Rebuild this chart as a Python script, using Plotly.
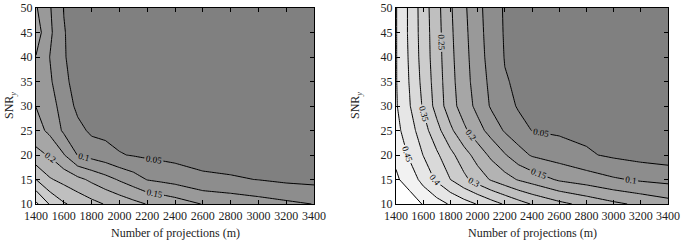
import plotly.graph_objects as go

# ---- data ----
x_proj = [1400, 1500, 1600, 1700, 1800, 1900, 2000, 2100, 2200, 2300, 2400,
          2600, 2800, 3000, 3200, 3400]
snr_y = [10, 15, 20, 25, 30, 35, 40, 45, 50]

# left panel: error values, one row per SNR value (10 .. 50)
err_left = [
    [0.41, 0.345, 0.305, 0.285, 0.265, 0.247, 0.232, 0.215, 0.198, 0.187, 0.175, 0.148, 0.135, 0.122, 0.110, 0.099],
    [0.30, 0.255, 0.235, 0.213, 0.190, 0.168, 0.145, 0.123, 0.098, 0.090, 0.082, 0.060, 0.055, 0.049, 0.040, 0.036],
    [0.215, 0.195, 0.153, 0.098, 0.083, 0.070, 0.053, 0.047, 0.042, 0.038, 0.034, 0.031, 0.029, 0.027, 0.026, 0.025],
    [0.170, 0.138, 0.092, 0.066, 0.040, 0.036, 0.033, 0.031, 0.030, 0.029, 0.028, 0.026, 0.024, 0.023, 0.022, 0.021],
    [0.149, 0.117, 0.083, 0.037, 0.032, 0.030, 0.028, 0.027, 0.026, 0.025, 0.024, 0.023, 0.022, 0.021, 0.020, 0.019],
    [0.140, 0.107, 0.062, 0.030, 0.028, 0.027, 0.026, 0.025, 0.024, 0.023, 0.022, 0.021, 0.020, 0.019, 0.018, 0.017],
    [0.148, 0.099, 0.053, 0.034, 0.030, 0.028, 0.026, 0.025, 0.024, 0.023, 0.022, 0.021, 0.020, 0.019, 0.018, 0.017],
    [0.175, 0.110, 0.052, 0.035, 0.030, 0.028, 0.026, 0.025, 0.024, 0.023, 0.022, 0.021, 0.020, 0.019, 0.018, 0.017],
    [0.155, 0.104, 0.049, 0.035, 0.030, 0.028, 0.026, 0.025, 0.024, 0.023, 0.022, 0.021, 0.020, 0.019, 0.018, 0.017],
]

# right panel
err_right = [
    [0.560, 0.525, 0.497, 0.470, 0.445, 0.421, 0.397, 0.371, 0.345, 0.320, 0.297, 0.263, 0.235, 0.210, 0.190, 0.170],
    [0.507, 0.479, 0.433, 0.392, 0.350, 0.312, 0.277, 0.245, 0.220, 0.196, 0.179, 0.143, 0.126, 0.106, 0.093, 0.085],
    [0.490, 0.442, 0.399, 0.358, 0.314, 0.271, 0.229, 0.189, 0.154, 0.120, 0.095, 0.078, 0.056, 0.042, 0.032, 0.025],
    [0.465, 0.422, 0.371, 0.317, 0.261, 0.210, 0.169, 0.131, 0.095, 0.070, 0.049, 0.042, 0.039, 0.037, 0.035, 0.034],
    [0.455, 0.403, 0.344, 0.281, 0.221, 0.176, 0.136, 0.094, 0.070, 0.045, 0.042, 0.038, 0.036, 0.034, 0.032, 0.031],
    [0.453, 0.397, 0.335, 0.276, 0.216, 0.170, 0.127, 0.0875, 0.053, 0.044, 0.042, 0.038, 0.035, 0.033, 0.031, 0.030],
    [0.453, 0.393, 0.329, 0.272, 0.212, 0.167, 0.121, 0.081, 0.048, 0.043, 0.040, 0.036, 0.033, 0.031, 0.029, 0.028],
    [0.453, 0.390, 0.327, 0.270, 0.209, 0.163, 0.118, 0.077, 0.046, 0.041, 0.038, 0.034, 0.031, 0.029, 0.027, 0.026],
    [0.453, 0.390, 0.325, 0.267, 0.206, 0.159, 0.115, 0.074, 0.045, 0.040, 0.037, 0.033, 0.030, 0.028, 0.026, 0.025],
]

x_ticks = [1400, 1600, 1800, 2000, 2200, 2400, 2600, 2800, 3000, 3200, 3400]
y_ticks = [10, 15, 20, 25, 30, 35, 40, 45, 50]

# ---- styling ----
FONT = "Liberation Serif"
band_grays = [128, 141, 153, 166, 179, 191, 204, 217, 230, 242, 255]


def scale(nbands):
    cols = band_grays[:nbands]
    return [[k / (nbands - 1), f"rgb({g},{g},{g})"] for k, g in enumerate(cols)]


def contour(z, end, xa, ya):
    return go.Contour(
        x=x_proj, y=snr_y, z=z, xaxis=xa, yaxis=ya,
        autocontour=False,
        contours=dict(start=0.05, end=end, size=0.05, coloring="fill",
                      showlabels=True, labelformat=".2~f",
                      labelfont=dict(family=FONT, size=9, color="black")),
        line=dict(color="black", width=1, smoothing=0),
        colorscale=scale(int(round(end / 0.05)) + 1),
        showscale=False, hoverinfo="skip",
    )


fig = go.Figure()
fig.add_trace(contour(err_left, 0.4, "x", "y"))
fig.add_trace(contour(err_right, 0.5, "x2", "y2"))

W, H = 685, 243
axis_common = dict(showline=True, linecolor="black", linewidth=1, mirror="ticks",
                   ticks="inside", ticklen=4, tickcolor="black", showgrid=False,
                   zeroline=False, tickfont=dict(family=FONT, size=12, color="#222"))

fig.update_layout(
    width=W, height=H,
    margin=dict(l=0, r=0, t=8, b=39, autoexpand=False),
    paper_bgcolor="white", plot_bgcolor="white",
    showlegend=False,
    xaxis=dict(domain=[36 / W, 314 / W], range=[1400, 3400], tickvals=x_ticks, anchor="y",
               ticklabelstandoff=1, **axis_common),
    yaxis=dict(domain=[0, 1], range=[10, 50], tickvals=y_ticks, anchor="x", **axis_common),
    xaxis2=dict(domain=[396 / W, 668 / W], range=[1400, 3400], tickvals=x_ticks, anchor="y2",
                ticklabelstandoff=1, **axis_common),
    yaxis2=dict(domain=[0, 1], range=[10, 50], tickvals=y_ticks, anchor="x2", **axis_common),
)

xtitle = "Number of projections (m)"
ytitle = "SNR<sub><i>y</i></sub>"
for cx, ytx in [(175, 10), (532, 356)]:
    fig.add_annotation(x=cx / W, y=-29 / 196, xref="paper", yref="paper", text=xtitle,
                       showarrow=False, xanchor="center", yanchor="middle",
                       font=dict(family=FONT, size=12, color="#222"))
    fig.add_annotation(x=ytx / W, y=0.5, xref="paper", yref="paper", text=ytitle,
                       showarrow=False, textangle=-90, xanchor="center", yanchor="middle",
                       font=dict(family=FONT, size=12, color="#222"))

fig.write_html("out.html", config={"displayModeBar": False},
               post_script="document.body.style.margin='0px';")
